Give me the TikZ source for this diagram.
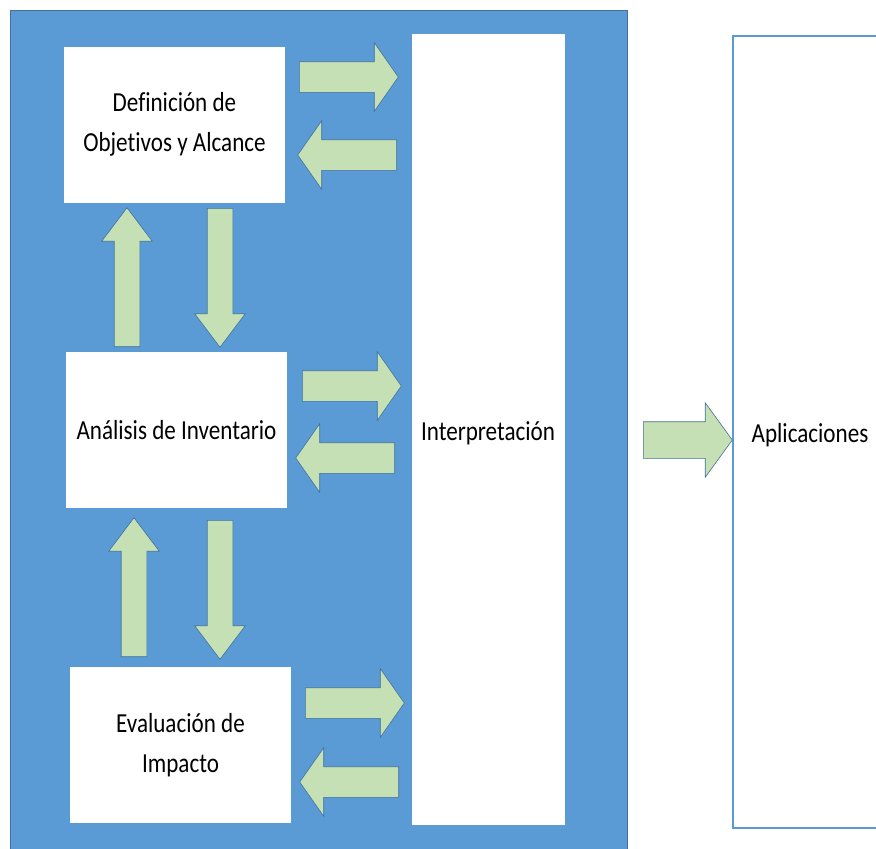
\documentclass[tikz,border=0pt]{standalone}
\usepackage{fontspec}
\setmainfont{Carlito}[FakeStretch=0.84, Ligatures=CommonOff]
\usepackage{tikz}
\usetikzlibrary{shapes.arrows}

\definecolor{panelblue}{HTML}{5B9BD5}
\definecolor{edgeblue}{HTML}{41719C}
\definecolor{arrowgreen}{HTML}{C5E0B4}

\tikzset{
	panel/.style={shape=rectangle, fill=panelblue, draw=edgeblue, line width=0.8pt, minimum width=617pt, minimum height=850pt, inner sep=0pt},
	stage/.style={shape=rectangle, fill=white, minimum width=221pt, minimum height=156pt, inner sep=0pt, align=center, font=\fontsize{27.5}{40}\selectfont},
	column/.style={shape=rectangle, fill=white, minimum width=153pt, minimum height=791pt, inner sep=0pt, text height=27pt, text depth=6pt, font=\fontsize{27.5}{40}\selectfont},
	blockarrow/.style={shape=single arrow, fill=arrowgreen, draw=edgeblue, line width=0.6pt, inner sep=0pt, text width=0pt, text depth=0pt, anchor=tail},
	harrow/.style={blockarrow, text height=30pt, single arrow head extend=19pt, minimum height=99pt, single arrow tip angle=110},
	varrow/.style={blockarrow, text height=25pt, single arrow head extend=12.5pt, minimum height=139pt, single arrow tip angle=74, rotate=#1},
	outarrow/.style={blockarrow, text height=36pt, single arrow head extend=19pt, minimum height=89pt, single arrow tip angle=108}
}

\begin{document}
\begin{tikzpicture}[x=1pt, y=-1pt]

	\useasboundingbox (0, 0) rectangle (876, 849);
	\clip (0, 0) rectangle (876, 849);

	\node[panel] (lca) at (318.5, 435) {};

	\node[stage] (def) at (174.5, 124.5) {Definición de\\Objetivos y Alcance};
	\node[stage] (inv) at (176.5, 430) {Análisis de Inventario};
	\node[stage] (imp) at (180.5, 745) {Evaluación de\\Impacto};
	\node[column] (int) at (488, 429.5) {Interpretación};
	\node[column, draw=panelblue, line width=1.2pt, minimum height=792pt, minimum width=154pt] (apl) at (810, 432) {Aplicaciones};

	\node[harrow] (defint) at (299, 77) {};
	\node[harrow, rotate=180] (intdef) at (397, 155) {};
	\node[harrow] (invint) at (302, 386) {};
	\node[harrow, rotate=180] (intinv) at (395, 458) {};
	\node[harrow] (impint) at (305, 703) {};
	\node[harrow, rotate=180] (intimp) at (399, 782) {};

	\node[varrow=90] (invdef) at (127, 347) {};
	\node[varrow=-90] (definv) at (220, 208) {};
	\node[varrow=90] (impinv) at (134, 657) {};
	\node[varrow=-90] (invimp) at (220, 520) {};

	\node[outarrow] (intapl) at (643, 440) {};

\end{tikzpicture}
\end{document}
